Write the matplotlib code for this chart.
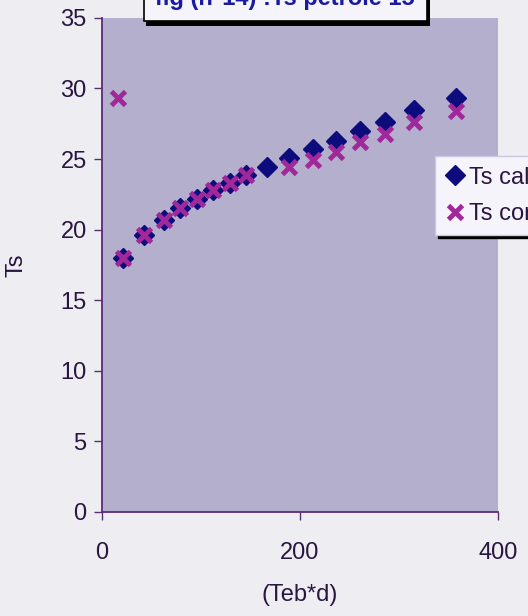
import numpy as np
import matplotlib.pyplot as plt
import matplotlib.patheffects as pe

# --- data ---
x_calc = [21, 43, 63, 79, 96, 112, 129, 146, 167, 189, 213, 236, 261, 286, 315, 358]
ts_calc = [18.0, 19.6, 20.7, 21.5, 22.2, 22.8, 23.3, 23.9, 24.4, 25.1, 25.7, 26.3, 27.0, 27.6, 28.5, 29.3]

x_corr = [16, 21, 43, 63, 79, 96, 112, 129, 146, 189, 213, 236, 261, 286, 315, 358]
ts_corr = [29.3, 18.0, 19.6, 20.7, 21.5, 22.2, 22.8, 23.3, 23.9, 24.4, 24.9, 25.5, 26.2, 26.8, 27.6, 28.4]

x_ticks = [0, 200, 400]
y_ticks = [0, 5, 10, 15, 20, 25, 30, 35]

plt.rcParams['font.family'] = ['Liberation Sans', 'DejaVu Sans']
txt = '#281640'

fig = plt.figure(figsize=(5.28, 6.16), dpi=100, facecolor='#eeeef2')
ax = fig.add_axes([0.193, 0.169, 0.75, 0.802])
ax.set_facecolor('#b4afcc')

ax.plot(x_calc, ts_calc, linestyle='none', marker='D', markersize=10,
        color='#0c0c7c', label='Ts calculé')
ax.plot(x_corr, ts_corr, linestyle='none', marker='x', markersize=10,
        markeredgewidth=3.5, color='#a0289a', label='Ts corrigé')

ax.set_xlim(0, 400)
ax.set_ylim(0, 35)
ax.set_xticks(x_ticks)
ax.set_yticks(y_ticks)
ax.tick_params(labelsize=17, colors=txt, length=6, width=1, color='#5a3070', pad=5)
ax.tick_params(axis='x', pad=16)
for s in ['top', 'right']:
    ax.spines[s].set_visible(False)
for s in ['left', 'bottom']:
    ax.spines[s].set_color('#5a2a78')
    ax.spines[s].set_linewidth(1.3)

ax.set_xlabel('(Teb*d)', fontsize=17, color=txt, labelpad=14)
ax.set_ylabel('Ts', fontsize=17, color=txt, labelpad=24)

# legend, partly cut off at the right edge like the scan
leg = fig.legend(loc='upper left', bbox_to_anchor=(435 / 528, 1 - 156 / 616),
                 borderaxespad=0, fontsize=17, frameon=True, fancybox=False,
                 handletextpad=0.2, handlelength=0.8, borderpad=0.45,
                 labelspacing=0.6, shadow={'color': 'black', 'alpha': 1})
leg.get_frame().set_facecolor('#f4f4fa')
leg.get_frame().set_edgecolor('#c8c8e0')
for t in leg.get_texts():
    t.set_color(txt)

# title box, top half cut off by the scan
title = fig.text(0.54, 1.003, 'fig (n°14) :Ts petrole 15', ha='center', va='center',
                 fontsize=17, fontweight='bold', color='#1a1aa0',
                 bbox=dict(boxstyle='square,pad=0.5', facecolor='#f4f4fa',
                           edgecolor='black', linewidth=1.2))
title.get_bbox_patch().set_path_effects(
    [pe.SimplePatchShadow(offset=(2, -3), shadow_rgbFace='black', alpha=1), pe.Normal()])

fig.savefig('out.png', dpi=100, facecolor=fig.get_facecolor())
